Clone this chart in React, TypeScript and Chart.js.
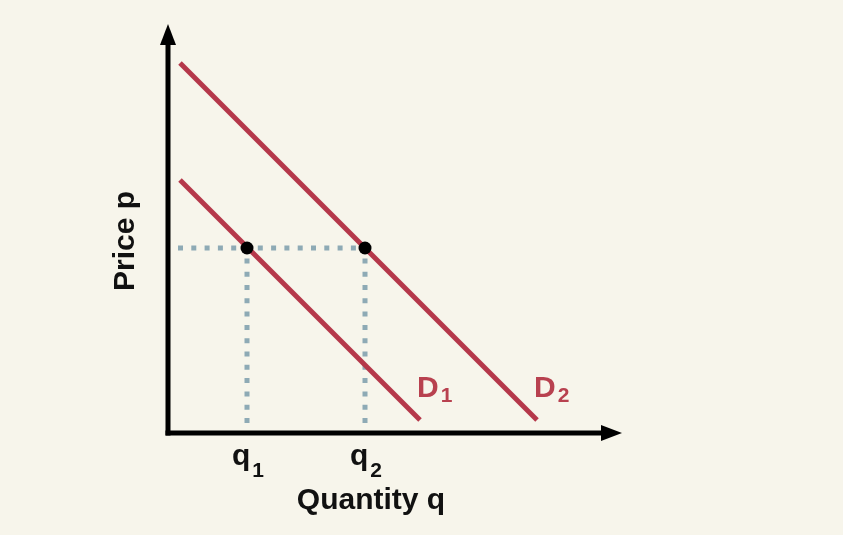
import React, { useEffect, useRef } from "react";
import { Chart, registerables } from "chart.js";

Chart.register(...registerables);

// ---- Data (quantity on x, price on y, arbitrary units) ----
const axisMaxQ = 45.4;
const axisMaxP = 40.9;

const d1Q = [1.2, 25.2];
const d1P = [25.3, 1.3];
const d2Q = [1.2, 36.9];
const d2P = [37.0, 1.3];

const eqQ = [7.9, 19.7]; // q1, q2
const eqP = [18.5, 18.5]; // same price p
const guideStartQ = 1.0;
const guideBaseP = 1.0;

const qLabels = ["q", "q"];
const qSubs = ["1", "2"];
const curveLabels = ["D", "D"];
const curveSubs = ["1", "2"];
const xTitle = "Quantity q";
const yTitle = "Price p";

const BG = "#f7f5eb";
const RED = "#b5384a";
const RED_TEXT = "#b8414f";
const DOT = "#8eaab5";
const FONT = "'Liberation Sans', Arial, Helvetica, sans-serif";
const MAIN_PX = 30;
const SUB_PX = 21;

function drawSub(
  ctx: CanvasRenderingContext2D,
  main: string,
  sub: string,
  x: number,
  baseline: number,
  subDrop: number,
  align: "center" | "left",
  color: string
) {
  ctx.save();
  ctx.fillStyle = color;
  ctx.textAlign = "left";
  ctx.textBaseline = "alphabetic";
  ctx.font = `bold ${MAIN_PX}px ${FONT}`;
  const w1 = ctx.measureText(main).width;
  ctx.font = `bold ${SUB_PX}px ${FONT}`;
  const w2 = ctx.measureText(sub).width;
  const gap = 2;
  const total = w1 + gap + w2;
  const start = align === "center" ? x - total / 2 : x;
  ctx.font = `bold ${MAIN_PX}px ${FONT}`;
  ctx.fillText(main, start, baseline);
  ctx.font = `bold ${SUB_PX}px ${FONT}`;
  ctx.fillText(sub, start + w1 + gap, baseline + subDrop);
  ctx.restore();
}

const overlay = {
  id: "overlay",
  beforeDraw(chart: any) {
    const ctx = chart.ctx;
    ctx.save();
    ctx.fillStyle = BG;
    ctx.fillRect(0, 0, chart.width, chart.height);
    ctx.restore();
  },
  afterDatasetsDraw(chart: any) {
    const ctx: CanvasRenderingContext2D = chart.ctx;
    const xs = chart.scales.x;
    const ys = chart.scales.y;
    const x0 = xs.getPixelForValue(0);
    const y0 = ys.getPixelForValue(0);
    const xTip = xs.getPixelForValue(axisMaxQ);
    const yTip = ys.getPixelForValue(axisMaxP);
    const lw = 5;
    const headLen = 21;
    const headHalf = 8;

    ctx.save();
    ctx.strokeStyle = "#000";
    ctx.fillStyle = "#000";
    ctx.lineWidth = lw;
    ctx.lineCap = "butt";
    // y axis
    ctx.beginPath();
    ctx.moveTo(x0, y0 + lw / 2);
    ctx.lineTo(x0, yTip + headLen - 1);
    ctx.stroke();
    ctx.beginPath();
    ctx.moveTo(x0, yTip);
    ctx.lineTo(x0 - headHalf, yTip + headLen);
    ctx.lineTo(x0 + headHalf, yTip + headLen);
    ctx.closePath();
    ctx.fill();
    // x axis
    ctx.beginPath();
    ctx.moveTo(x0 - lw / 2, y0);
    ctx.lineTo(xTip - headLen + 1, y0);
    ctx.stroke();
    ctx.beginPath();
    ctx.moveTo(xTip, y0);
    ctx.lineTo(xTip - headLen, y0 - headHalf);
    ctx.lineTo(xTip - headLen, y0 + headHalf);
    ctx.closePath();
    ctx.fill();
    ctx.restore();

    // q labels
    for (let i = 0; i < eqQ.length; i++) {
      drawSub(ctx, qLabels[i], qSubs[i], xs.getPixelForValue(eqQ[i]) + 1, y0 + 32, 12, "center", "#111");
    }
    // curve labels near lower end of each demand line
    const ends = [
      [d1Q[1], d1P[1]],
      [d2Q[1], d2P[1]],
    ];
    for (let i = 0; i < ends.length; i++) {
      const ex = xs.getPixelForValue(ends[i][0]);
      const ey = ys.getPixelForValue(ends[i][1]);
      drawSub(ctx, curveLabels[i], curveSubs[i], ex - 3, ey - 23, 5, "left", RED_TEXT);
    }

    // axis titles
    ctx.save();
    ctx.fillStyle = "#111";
    ctx.font = `bold ${MAIN_PX}px ${FONT}`;
    ctx.textAlign = "center";
    ctx.textBaseline = "alphabetic";
    ctx.fillText(xTitle, xs.getPixelForValue(20.3), y0 + 76);
    ctx.translate(x0 - 34, ys.getPixelForValue(19.2));
    ctx.rotate(-Math.PI / 2);
    ctx.fillText(yTitle, 0, 0);
    ctx.restore();
  },
};

export default function App() {
  const ref = useRef<HTMLCanvasElement | null>(null);

  useEffect(() => {
    if (!ref.current) return;
    const guideStyle = {
      borderColor: DOT,
      borderWidth: 5,
      borderDash: [5, 8.3],
      borderCapStyle: "butt" as const,
      pointRadius: 0,
      showLine: true,
      fill: false,
      order: 3,
    };
    const chart = new Chart(ref.current, {
      type: "scatter",
      data: {
        datasets: [
          {
            label: "p guide",
            data: [
              { x: guideStartQ, y: eqP[0] },
              { x: eqQ[1], y: eqP[1] },
            ],
            ...guideStyle,
          },
          {
            label: "q1 guide",
            data: [
              { x: eqQ[0], y: guideBaseP },
              { x: eqQ[0], y: eqP[0] },
            ],
            ...guideStyle,
          },
          {
            label: "q2 guide",
            data: [
              { x: eqQ[1], y: guideBaseP },
              { x: eqQ[1], y: eqP[1] },
            ],
            ...guideStyle,
          },
          {
            label: "D1",
            data: d1Q.map((q, i) => ({ x: q, y: d1P[i] })),
            borderColor: RED,
            borderWidth: 5,
            pointRadius: 0,
            showLine: true,
            order: 2,
          },
          {
            label: "D2",
            data: d2Q.map((q, i) => ({ x: q, y: d2P[i] })),
            borderColor: RED,
            borderWidth: 5,
            pointRadius: 0,
            showLine: true,
            order: 2,
          },
          {
            label: "equilibria",
            data: eqQ.map((q, i) => ({ x: q, y: eqP[i] })),
            backgroundColor: "#000",
            borderColor: "#000",
            borderWidth: 0,
            pointRadius: 6.5,
            showLine: false,
            order: 1,
          },
        ],
      },
      options: {
        animation: false,
        responsive: true,
        maintainAspectRatio: false,
        layout: { padding: { left: 168, right: 221, top: 24, bottom: 102 } },
        plugins: {
          legend: { display: false },
          tooltip: { enabled: false },
          title: { display: false },
        },
        scales: {
          x: { type: "linear", min: 0, max: axisMaxQ, display: false },
          y: { type: "linear", min: 0, max: axisMaxP, display: false },
        },
        events: [],
      },
      plugins: [overlay],
    });
    return () => chart.destroy();
  }, []);

  return (
    <div style={{ position: "fixed", left: 0, top: 0, width: 843, height: 535, background: BG }}>
      <canvas ref={ref} />
    </div>
  );
}
